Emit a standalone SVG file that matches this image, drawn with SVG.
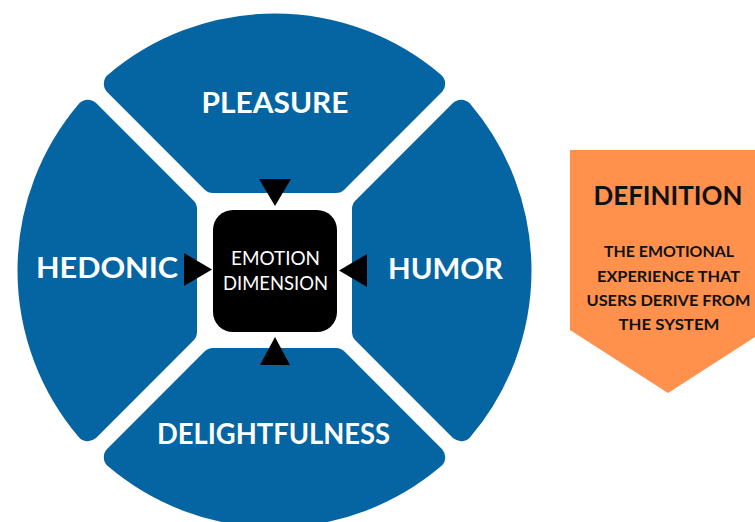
<svg xmlns="http://www.w3.org/2000/svg" width="755" height="522" viewBox="0 0 755 522">
  <style>
    .seg { fill: #0565a3; stroke: #0565a3; stroke-width: 24; stroke-linejoin: round; }
    .lbl { font-family: "Lato", "Liberation Sans", "DejaVu Sans", sans-serif; font-weight: bold; font-size: 28px; fill: #ffffff; text-anchor: middle; }
    .ctr { font-family: "Lato", "Liberation Sans", "DejaVu Sans", sans-serif; font-weight: normal; font-size: 19px; fill: #ffffff; text-anchor: middle; }
    .def { font-family: "Lato", "Liberation Sans", "DejaVu Sans", sans-serif; font-weight: bold; fill: #111111; text-anchor: middle; }
    .arrow { fill: #000000; }
  </style>
  <rect x="0" y="0" width="755" height="522" fill="#ffffff"/>

  <g id="node-pleasure">
    <path class="seg" d="M 212.97 181 L 115.81 83.84 A 245 245 0 0 1 433.19 83.84 L 336.03 181 Z"/>
    <text class="lbl" x="275" y="112.5" textLength="147" lengthAdjust="spacingAndGlyphs">PLEASURE</text>
  </g>

  <g id="node-hedonic">
    <path class="seg" d="M 185 208.97 L 87.84 111.81 A 245 245 0 0 0 87.84 429.19 L 185 332.03 Z"/>
    <text class="lbl" x="107" y="278" textLength="142" lengthAdjust="spacingAndGlyphs">HEDONIC</text>
  </g>

  <g id="node-humor">
    <path class="seg" d="M 364 208.97 L 461.16 111.81 A 245 245 0 0 1 461.16 429.19 L 364 332.03 Z"/>
    <text class="lbl" x="445.5" y="279" textLength="115" lengthAdjust="spacingAndGlyphs">HUMOR</text>
  </g>

  <g id="node-delightfulness">
    <path class="seg" d="M 212.97 360 L 115.81 457.16 A 245 245 0 0 0 433.19 457.16 L 336.03 360 Z"/>
    <text class="lbl" x="273.5" y="443.5" textLength="233" lengthAdjust="spacingAndGlyphs">DELIGHTFULNESS</text>
  </g>

  <g id="node-center">
    <rect x="213" y="210" width="124" height="122" rx="20" ry="20" fill="#000000"/>
    <text class="ctr" x="275.5" y="265" textLength="89" lengthAdjust="spacingAndGlyphs">EMOTION</text>
    <text class="ctr" x="275.5" y="290" textLength="105" lengthAdjust="spacingAndGlyphs">DIMENSION</text>
  </g>

  <g id="connectors">
    <polygon class="arrow" points="259,179 291,179 275,206"/>
    <polygon class="arrow" points="260,365 290,365 275,337"/>
    <polygon class="arrow" points="184,253 184,286 212,269.5"/>
    <polygon class="arrow" points="367,254 367,287 339,270.5"/>
  </g>

  <g id="node-definition">
    <polygon points="570,150 766,150 766,330 668,393 570,330" fill="#ff914d"/>
    <text class="def" x="668" y="205" font-size="27" textLength="149" lengthAdjust="spacingAndGlyphs">DEFINITION</text>
    <text class="def" x="669" y="257" font-size="15" textLength="130" lengthAdjust="spacingAndGlyphs">THE EMOTIONAL</text>
    <text class="def" x="668.5" y="282" font-size="15" textLength="143" lengthAdjust="spacingAndGlyphs">EXPERIENCE THAT</text>
    <text class="def" x="668.5" y="306" font-size="15" textLength="164" lengthAdjust="spacingAndGlyphs">USERS DERIVE FROM</text>
    <text class="def" x="669" y="330" font-size="15" textLength="101" lengthAdjust="spacingAndGlyphs">THE SYSTEM</text>
  </g>
</svg>
